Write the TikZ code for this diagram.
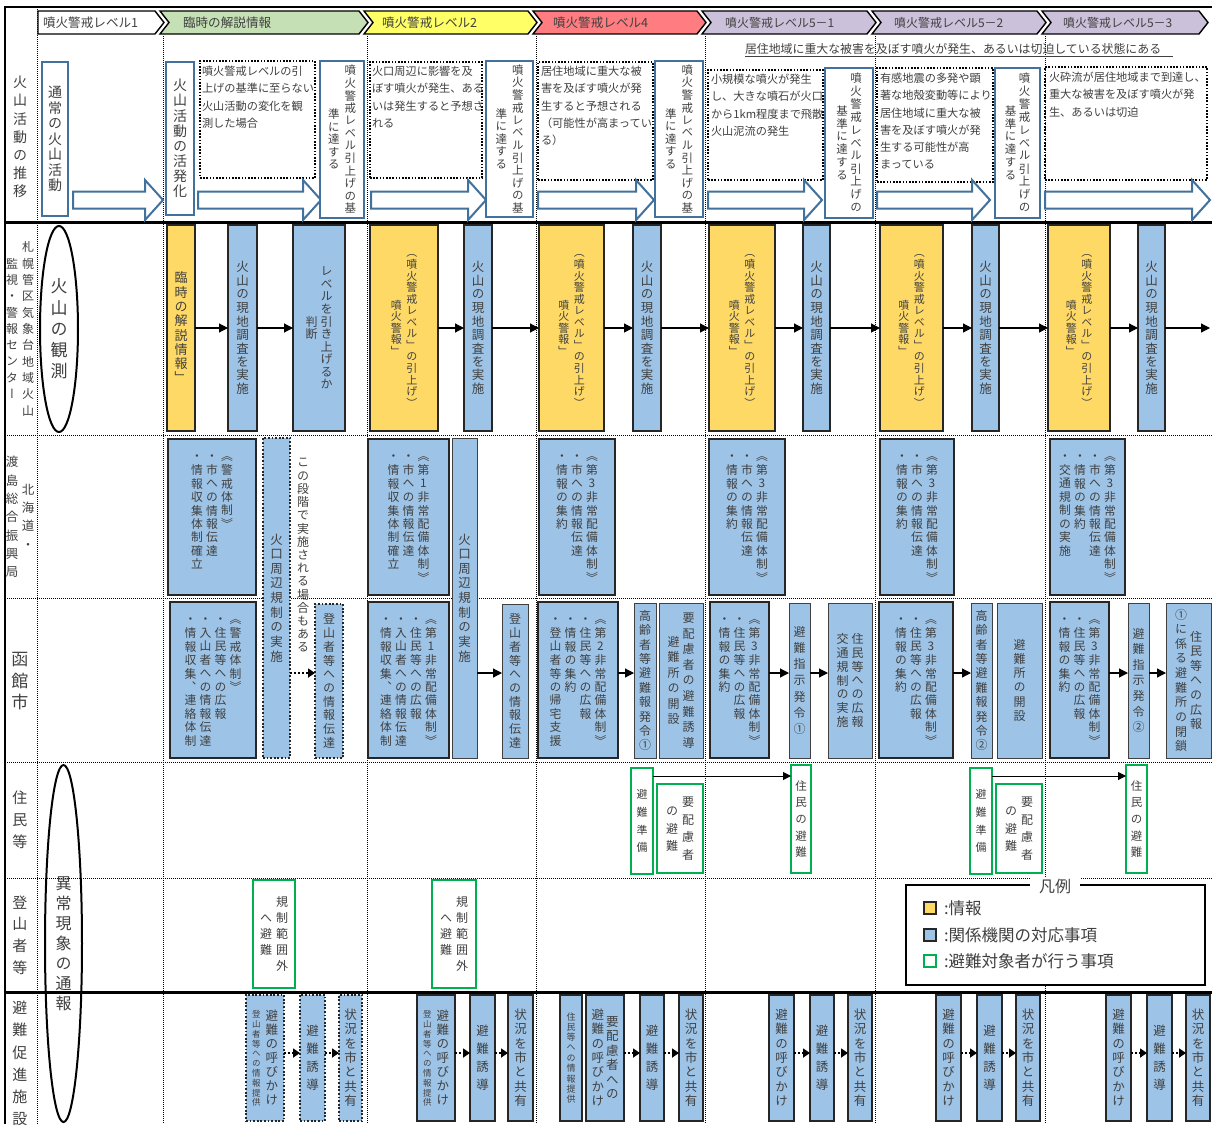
\documentclass[tikz,border=0pt]{standalone}
\usepackage{fontspec}
\setmainfont{Noto Sans CJK JP}
\newfontfamily\tatefont{Noto Sans CJK JP}[RawFeature=+vert]
\usetikzlibrary{arrows.meta,shapes.geometric}
\definecolor{txt}{HTML}{404040}
\definecolor{bfill}{HTML}{9DC3E6}
\definecolor{yfill}{HTML}{FFD966}
\definecolor{bdark}{HTML}{262626}
\definecolor{bgray}{HTML}{404040}
\definecolor{gline}{HTML}{00B050}
\definecolor{oline}{HTML}{41719C}
\definecolor{hgreen}{HTML}{C5E0B4}
\definecolor{hyellow}{HTML}{FFFF66}
\definecolor{hred}{HTML}{FF7C80}
\definecolor{hpurple}{HTML}{CCC1DA}
\newcommand\vtstep{1.12em}
\newcommand\vtgap{3pt}
\ExplSyntaxOn
\seq_new:N \l__vt_seq
\bool_new:N \l__vt_first_bool
\cs_new_protected:Npn \__vt_cells:n #1
  {
    \offinterlineskip
    \tl_map_inline:nn {#1}
      {
        \hbox_to_wd:nn {1em}
          { \hss \vbox_to_ht:nn {\vtstep} { \vss \hbox:n { \vphantom{国} ##1 } \vss } \hss }
      }
  }
\cs_new_protected:Npn \__vt_make:nn #1#2
  {
    \seq_set_split:Nnn \l__vt_seq { | } {#2}
    \seq_reverse:N \l__vt_seq
    \hbox:n
      {
        \bool_set_false:N \l__vt_first_bool
        \seq_map_inline:Nn \l__vt_seq
          {
            \bool_if:NT \l__vt_first_bool { \hskip \vtgap \scan_stop: }
            \bool_set_true:N \l__vt_first_bool
            \str_if_eq:nnTF {#1} {t}
              { \vtop { \__vt_cells:n {##1} } }
              { \c_math_toggle_token \vcenter { \__vt_cells:n {##1} } \c_math_toggle_token }
          }
      }
  }
\NewDocumentCommand \vtc { m } { \__vt_make:nn {c} {#1} }
\NewDocumentCommand \vtt { m } { \__vt_make:nn {t} {#1} }
\ExplSyntaxOff
\tikzset{
  every node/.style={inner sep=0pt, outer sep=0pt, text=txt},
  box/.style n args={4}{minimum width={#3-#1}, minimum height={#4-#2}, at={({(#1+#3)/2},{(#2+#4)/2})}},
  vf/.style n args={3}{font=\tatefont\fontsize{#1}{#1}\selectfont\def\vtstep{#2em}\def\vtgap{#3pt}},
  hf/.style={font=\fontsize{#1}{#1}\selectfont},
  htx/.style={font=\fontsize{11.2}{17.3}\selectfont, align=left},
  bbox/.style={fill=bfill, draw=bdark, line width=2pt},
  bthk/.style={fill=bfill, draw=bdark, line width=2.6pt},
  bthin/.style={fill=bfill, draw=bgray, line width=1pt},
  bdot/.style={fill=bfill, draw=bdark, line width=1.8pt, dash pattern=on 1.8pt off 1.8pt},
  ybox/.style={fill=yfill, draw=bdark, line width=2pt},
  gbox/.style={fill=white, draw=gline, line width=2pt},
  obox/.style={fill=white, draw=oline, line width=2pt},
  tbox/.style={draw=black, line width=1.6pt, dash pattern=on 1.6pt off 1.6pt},
  grid/.style={line width=0.9pt, dash pattern=on 1pt off 1pt},
  arr/.style={line width=1.2pt, -{Triangle[length=9pt,width=9pt]}},
  sarr/.style={line width=1pt, -{Triangle[length=8pt,width=8pt]}},
  darr/.style={line width=2.2pt, dash pattern=on 2pt off 2pt, -{Triangle[length=7pt,width=9pt]}},
}
\newcommand\barrow[3]{\draw[line width=2pt, draw=oline, fill=white, line join=miter] (#1,#3-8.5) -- (#2-18,#3-8.5) -- (#2-18,#3-20) -- (#2,#3) -- (#2-18,#3+20) -- (#2-18,#3+8.5) -- (#1,#3+8.5) -- cycle;}
\newcommand\chev[3]{\draw[line width=1.4pt, fill=#3] (#1,11) -- (#2-9,11) -- (#2,22.5) -- (#2-9,34) -- (#1,34) -- (#1+9,22.5) -- cycle;}
\newcommand\tb[8]{\node[#1, box={#4}{#5}{#6}{#7}] (#3) {};
  \path (#3.north) ++(0,11) node[anchor=north, #2] (#3t) {#8};}
\begin{document}
\begin{tikzpicture}[x=1pt,y=-1pt]
\useasboundingbox (0,0) rectangle (1212,1124);
\fill[white] (0,0) rectangle (1212,1124);
% ---------------- grid
\draw[grid] (37,7) -- (37,1124);
\foreach \gx in {163,367,536,705,875,1045} \draw[grid] (\gx,36) -- (\gx,1124);
\foreach \gy in {435,598,762,878} \draw[grid] (5,\gy) -- (1212,\gy);
\draw[line width=3pt] (5,222) -- (1212,222);
\draw[line width=3pt] (5,992) -- (1212,992);
\draw[line width=2.5pt] (1212,7) -- (5,7) -- (5,1124);
% ---------------- header chevrons
\draw[line width=1.4pt, fill=white] (38,11) -- (155,11) -- (164,22.5) -- (155,34) -- (38,34) -- cycle;
\chev{160}{368}{hgreen}
\chev{364}{537}{hyellow}
\chev{533}{706}{hred}
\chev{702}{876}{hpurple}
\chev{872}{1046}{hpurple}
\chev{1042}{1208}{hpurple}
\node[hf=12.6, anchor=west] (h1) at (43,23) {噴火警戒レベル1};
\node[hf=12.6, anchor=west] (h2) at (183,23) {臨時の解説情報};
\node[hf=12.6, anchor=west] (h3) at (382,23) {噴火警戒レベル2};
\node[hf=12.6, anchor=west] (h4) at (553,23) {噴火警戒レベル4};
\node[hf=12, anchor=west] (h5) at (725,23) {噴火警戒レベル5－1};
\node[hf=12, anchor=west] (h6) at (894,23) {噴火警戒レベル5－2};
\node[hf=12, anchor=west] (h7) at (1063,23) {噴火警戒レベル5－3};
% ---------------- row labels
\node[vf={14}{1.3}{3}] (lab1) at (20,137) {\vtc{火山活動の推移}};
\node[vf={12}{1.36}{4}] (lab2) at (20,329) {\vtc{札幌管区気象台地域火山|監視・警報センター}};
\node[vf={12.5}{1.47}{3.5}] (lab3) at (20,517) {\vtc{北海道・|渡島総合振興局}};
\node[vf={17}{1.25}{3}] (lab4) at (20,681) {\vtc{函館市}};
\node[vf={15}{1.45}{3}] (lab5) at (20,820) {\vtc{住民等}};
\node[vf={15}{1.45}{3}] (lab6) at (20,935) {\vtc{登山者等}};
\node[vf={15}{1.48}{3}, anchor=north] (lab7) at (20,997) {\vtt{避難促進施設}};
\node[ellipse, draw=black, line width=2pt, minimum width=38pt, minimum height=206pt, vf={17}{1.25}{3}] (obs) at (59,329) {\vtc{火山の観測}};
\node[ellipse, draw=black, line width=2pt, minimum width=37pt, minimum height=357pt, vf={16}{1.25}{3}] (rep) at (63.5,943.5) {\vtc{異常現象の通報}};
% ---------------- row 1
\node[obox, box={42}{62}{68}{216}, vf={14}{1.1}{3}] (r1a) {\vtc{通常の火山活動}};
\barrow{73}{163}{200}
\node[obox, box={166}{62}{194}{215}, vf={14}{1.08}{3}] (r1b) {\vtc{火山活動の活発化}};
\node[tbox, box={200}{61}{315}{178}] (r1c) {};
\node[htx, anchor=north west] (r1ct) at (202,66) {噴火警戒レベルの引\\上げの基準に至らない\\火山活動の変化を観\\測した場合};
\barrow{198}{321}{200}
\node[obox, box={320}{61}{364}{218}, vf={11.5}{1.09}{5}] (r1d) {\vtc{噴火警戒レベル引上げの基|準に達する}};
\node[tbox, box={370}{62}{482}{178}] (r1e) {};
\node[htx, anchor=north west] (r1et) at (372,66) {火口周辺に影響を及\\ぼす噴火が発生、ある\\いは発生すると予想さ\\れる};
\barrow{371}{486}{200}
\node[obox, box={486}{61}{533}{217}, vf={11.5}{1.09}{5}] (r1f) {\vtc{噴火警戒レベル引上げの基|準に達する}};
\node[tbox, box={538}{62}{653}{180}] (r1g) {};
\node[htx, anchor=north west] (r1gt) at (541,66) {居住地域に重大な被\\害を及ぼす噴火が発\\生すると予想される\\（可能性が高まってい\\る）};
\barrow{538}{654}{200}
\node[obox, box={655}{61}{703}{217}, vf={11.5}{1.09}{5}] (r1h) {\vtc{噴火警戒レベル引上げの基|準に達する}};
\node[hf=11.9, anchor=base west] (ban) at (745,53.5) {居住地域に重大な被害を及ぼす噴火が発生、あるいは切迫している状態にある};
\draw[line width=0.8pt, draw=txt] (ban.base west) ++(0,3) -- ++(428,0);
\node[tbox, box={708}{70}{823}{180}] (r1i) {};
\node[htx, anchor=north west] (r1it) at (711,74) {小規模な噴火が発生\\し、大きな噴石が火口\\から1km程度まで飛散\\火山泥流の発生};
\barrow{708}{822}{200}
\node[obox, box={825}{68}{873}{218}, vf={11.5}{1.12}{2.5}] (r1j) {\vtc{噴火警戒レベル引上げの|基準に達する}};
\node[tbox, box={877}{68}{993}{182}] (r1k) {};
\node[htx, anchor=north west] (r1kt) at (880,73) {有感地震の多発や顕\\著な地殻変動等により\\居住地域に重大な被\\害を及ぼす噴火が発\\生する可能性が高\\まっている};
\barrow{877}{990}{200}
\node[obox, box={995}{68}{1040}{218}, vf={11.5}{1.12}{2.5}] (r1l) {\vtc{噴火警戒レベル引上げの|基準に達する}};
\node[tbox, box={1045}{67}{1207}{180}] (r1m) {};
\node[htx, anchor=north west] (r1mt) at (1049,72) {火砕流が居住地域まで到達し、\\重大な被害を及ぼす噴火が発\\生、あるいは切迫};
\barrow{1045}{1210}{200}
% ---------------- row 2
\node[ybox, box={167}{225}{195}{431}, vf={13}{1.1}{3}] (r2y1) {\vtc{臨時の解説情報」}};
\node[bbox, box={228}{225}{257}{431}, vf={12.5}{1.08}{3}] (r2b1) {\vtc{火山の現地調査を実施}};
\node[bbox, box={293}{225}{345}{431}, vf={12}{1.05}{3}] (r2c1) {\vtc{レベルを引き上げるか|判断}};
\node[ybox, box={370}{225}{438}{431}, vf={11}{1.05}{4.5}] (r2y2) {\vtc{（噴火警戒レベル」の引上げ）|噴火警報」}};
\node[bbox, box={464}{225}{492}{431}, vf={12.5}{1.08}{3}] (r2b2) {\vtc{火山の現地調査を実施}};
\node[ybox, box={539}{225}{604}{431}, vf={11}{1.05}{4.5}] (r2y4) {\vtc{（噴火警戒レベル」の引上げ）|噴火警報」}};
\node[bbox, box={633}{225}{661}{431}, vf={12.5}{1.08}{3}] (r2b4) {\vtc{火山の現地調査を実施}};
\node[ybox, box={709}{225}{775}{431}, vf={11}{1.05}{4.5}] (r2y5) {\vtc{（噴火警戒レベル」の引上げ）|噴火警報」}};
\node[bbox, box={803}{225}{830}{431}, vf={12.5}{1.08}{3}] (r2b5) {\vtc{火山の現地調査を実施}};
\node[ybox, box={880}{225}{943}{431}, vf={11}{1.05}{4.5}] (r2y6) {\vtc{（噴火警戒レベル」の引上げ）|噴火警報」}};
\node[bbox, box={972}{225}{999}{431}, vf={12.5}{1.08}{3}] (r2b6) {\vtc{火山の現地調査を実施}};
\node[ybox, box={1048}{225}{1110}{431}, vf={11}{1.05}{4.5}] (r2y7) {\vtc{（噴火警戒レベル」の引上げ）|噴火警報」}};
\node[bbox, box={1138}{225}{1165}{431}, vf={12.5}{1.08}{3}] (r2b7) {\vtc{火山の現地調査を実施}};
\coordinate (r2end) at (1210,328);
\draw[arr] (r2y1) -- (r2b1);
\draw[arr] (r2b1) -- (r2c1);
\draw[arr] (r2y2) -- (r2b2);
\draw[arr] (r2b2) -- (r2y4);
\draw[arr] (r2y4) -- (r2b4);
\draw[arr] (r2b4) -- (r2y5);
\draw[arr] (r2y5) -- (r2b5);
\draw[arr] (r2b5) -- (r2y6);
\draw[arr] (r2y6) -- (r2b6);
\draw[arr] (r2b6) -- (r2y7);
\draw[arr] (r2y7) -- (r2b7);
\draw[arr] (r2b7) -- (r2end);
% ---------------- rows 3/4 tall boxes
\node[bdot, box={263}{438}{290}{758}, vf={12.5}{1.17}{3}] (r34a) {\vtc{火口周辺規制の実施}};
\node[vf={12}{1.1}{3}, anchor=north] (note) at (303,456) {\vtt{この段階で実施される場合もある}};
\node[bthin, box={452}{438}{477}{758}, vf={12.5}{1.17}{3}] (r34b) {\vtc{火口周辺規制の実施}};
% ---------------- row 3
\tb{bthk}{vf={11.8}{1.14}{3.2}}{r3a}{168}{439}{256}{595}{\vtt{《警戒体制》|・市への情報伝達|・情報収集体制確立}}
\tb{bthk}{vf={11.8}{1.14}{3.2}}{r3b}{368}{439}{449}{595}{\vtt{《第1非常配備体制》|・市への情報伝達|・情報収集体制確立}}
\tb{bthk}{vf={11.8}{1.14}{3.2}}{r3c}{539}{439}{615}{595}{\vtt{《第3非常配備体制》|・市への情報伝達|・情報の集約}}
\tb{bthk}{vf={11.8}{1.14}{3.2}}{r3d}{709}{439}{785}{595}{\vtt{《第3非常配備体制》|・市への情報伝達|・情報の集約}}
\tb{bthk}{vf={11.8}{1.14}{3.2}}{r3e}{880}{439}{954}{595}{\vtt{《第3非常配備体制》|・市への情報伝達|・情報の集約}}
\tb{bthk}{vf={11.8}{1.14}{3.2}}{r3f}{1050}{439}{1125}{595}{\vtt{《第3非常配備体制》|・市への情報伝達|・情報の集約|・交通規制の実施}}
% ---------------- row 4
\tb{bthk}{vf={11.8}{1.14}{3.2}}{r4a}{170}{602}{256}{758}{\vtt{《警戒体制》|・住民等への広報|・入山者への情報伝達|・情報収集、連絡体制}}
\node[bdot, box={315}{604}{343}{758}, vf={12}{1.14}{3}] (r4b) {\vtc{登山者等への情報伝達}};
\tb{bthk}{vf={11.8}{1.14}{3.2}}{r4c}{368}{602}{449}{758}{\vtt{《第1非常配備体制》|・住民等への広報|・入山者への情報伝達|・情報収集、連絡体制}}
\node[bthin, box={502}{604}{528}{758}, vf={12}{1.14}{3}] (r4d) {\vtc{登山者等への情報伝達}};
\tb{bthk}{vf={11.8}{1.14}{3.2}}{r4e}{538}{602}{618}{758}{\vtt{《第2非常配備体制》|・住民等への広報|・情報の集約|・登山者等の帰宅支援}}
\node[bthin, box={634}{603}{656}{758}, vf={12}{1.2}{3}] (r4f) {\vtc{高齢者等避難報発令①}};
\node[bthin, box={659}{603}{703}{758}, vf={12}{1.3}{3}] (r4g) {\vtc{要配慮者の避難誘導|避難所の開設}};
\tb{bthk}{vf={11.8}{1.14}{3.2}}{r4h}{710}{602}{769}{758}{\vtt{《第3非常配備体制》|・住民等への広報|・情報の集約}}
\node[bthin, box={789}{603}{810}{758}, vf={12}{1.35}{3}] (r4i) {\vtc{避難指示発令①}};
\node[bthin, box={828}{603}{872}{758}, vf={12}{1.15}{3}] (r4j) {\vtc{住民等への広報|交通規制の実施}};
\tb{bthk}{vf={11.8}{1.14}{3.2}}{r4k}{879}{602}{953}{758}{\vtt{《第3非常配備体制》|・住民等への広報|・情報の集約}}
\node[bthin, box={971}{603}{992}{758}, vf={12}{1.2}{3}] (r4l) {\vtc{高齢者等避難報発令②}};
\node[bthin, box={997}{603}{1042}{758}, vf={12}{1.2}{3}] (r4m) {\vtc{避難所の開設}};
\tb{bthk}{vf={11.8}{1.14}{3.2}}{r4n}{1050}{602}{1109}{758}{\vtt{《第3非常配備体制》|・住民等への広報|・情報の集約}}
\node[bthin, box={1128}{603}{1149}{758}, vf={12}{1.3}{3}] (r4o) {\vtc{避難指示発令②}};
\node[bthin, box={1166}{603}{1211}{758}, vf={12}{1.22}{3}] (r4p) {\vtc{住民等への広報|①に係る避難所の閉鎖}};
\coordinate (ya) at (0,673);
\draw[darr] (r34a.east |- ya) -- (r4b.west |- ya);
\draw[arr] (r34b.east |- ya) -- (r4d.west |- ya);
\draw[arr] (r4e.east |- ya) -- (r4f.west |- ya);
\draw[arr] (r4h.east |- ya) -- (r4i.west |- ya);
\draw[arr] (r4i.east |- ya) -- (r4j.west |- ya);
\draw[arr] (r4k.east |- ya) -- (r4l.west |- ya);
\draw[arr] (r4n.east |- ya) -- (r4o.west |- ya);
\draw[arr] (r4o.east |- ya) -- (r4p.west |- ya);
% ---------------- row 5
\node[gbox, box={631}{768}{653}{874}, vf={11}{1.6}{3}] (r5a) {\vtc{避難準備}};
\node[gbox, box={657}{784}{703}{873}, vf={12}{1.45}{4}] (r5b) {\vtc{要配慮者|の避難}};
\node[gbox, box={791}{765}{811}{873}, vf={11.5}{1.45}{3}] (r5c) {\vtc{住民の避難}};
\node[gbox, box={970}{768}{992}{874}, vf={11}{1.6}{3}] (r5d) {\vtc{避難準備}};
\node[gbox, box={996}{784}{1042}{873}, vf={12}{1.45}{4}] (r5e) {\vtc{要配慮者|の避難}};
\node[gbox, box={1126}{765}{1147}{873}, vf={11.5}{1.45}{3}] (r5f) {\vtc{住民の避難}};
\coordinate (yb) at (0,776);
\draw[sarr] (r5a.east |- yb) -- (r5c.west |- yb);
\draw[sarr] (r5d.east |- yb) -- (r5f.west |- yb);
% ---------------- row 6
\node[gbox, box={253}{880}{295}{988}, vf={12}{1.35}{4}] (r6a) {\vtc{規制範囲外|へ避難}};
\node[gbox, box={432}{880}{476}{988}, vf={12}{1.35}{4}] (r6b) {\vtc{規制範囲外|へ避難}};
% legend
\node[draw=black, line width=2pt, fill=white, box={906}{885}{1205}{985}] (leg) {};
\node[fill=white, inner xsep=9pt, inner ysep=2pt, hf=16] (legt) at (1055,886) {凡例};
\node[fill=yfill, draw=bdark, line width=1.6pt, minimum size=12pt] (lg1) at (930,908) {};
\node[fill=bfill, draw=bdark, line width=1.6pt, minimum size=12pt] (lg2) at (930,935) {};
\node[fill=white, draw=gline, line width=1.8pt, minimum size=12pt] (lg3) at (930,961) {};
\node[hf=16.5, anchor=west] (lg1t) at (944,908) {:情報};
\node[hf=16.5, anchor=west] (lg2t) at (944,935) {:関係機関の対応事項};
\node[hf=16.5, anchor=west] (lg3t) at (944,961) {:避難対象者が行う事項};
% ---------------- row 7
\node[bdot, box={246}{995}{284}{1121}, font=\tatefont] (r7a) {\hbox{\fontsize{8.5}{8.5}\selectfont\def\vtstep{1.15em}\vtc{登山者等への情報提供}\hskip5pt\fontsize{12.5}{12.5}\selectfont\def\vtstep{1.12em}\vtc{避難の呼びかけ}}};
\node[bdot, box={300}{995}{325}{1121}, vf={12.5}{1.45}{3}] (r7b) {\vtc{避難誘導}};
\node[bdot, box={339}{995}{362}{1121}, vf={12.5}{1.15}{3}] (r7c) {\vtc{状況を市と共有}};
\node[bbox, box={417}{995}{455}{1121}, font=\tatefont] (r7d) {\hbox{\fontsize{8.5}{8.5}\selectfont\def\vtstep{1.15em}\vtc{登山者等への情報提供}\hskip5pt\fontsize{12.5}{12.5}\selectfont\def\vtstep{1.12em}\vtc{避難の呼びかけ}}};
\node[bbox, box={470}{995}{495}{1121}, vf={12.5}{1.45}{3}] (r7e) {\vtc{避難誘導}};
\node[bbox, box={508}{995}{533}{1121}, vf={12.5}{1.15}{3}] (r7f) {\vtc{状況を市と共有}};
\node[bbox, box={560}{995}{582}{1121}, vf={9}{1.15}{3}] (r7g) {\vtc{住民等への情報提供}};
\node[bbox, box={586}{995}{624}{1121}, vf={12.5}{1.15}{2}] (r7h) {\vtc{要配慮者への|避難の呼びかけ}};
\node[bbox, box={640}{995}{664}{1121}, vf={12.5}{1.45}{3}] (r7i) {\vtc{避難誘導}};
\node[bbox, box={679}{995}{703}{1121}, vf={12.5}{1.15}{3}] (r7j) {\vtc{状況を市と共有}};
\node[bbox, box={769}{995}{794}{1121}, vf={12.5}{1.15}{3}] (r7k) {\vtc{避難の呼びかけ}};
\node[bbox, box={810}{995}{834}{1121}, vf={12.5}{1.45}{3}] (r7l) {\vtc{避難誘導}};
\node[bbox, box={848}{995}{872}{1121}, vf={12.5}{1.15}{3}] (r7m) {\vtc{状況を市と共有}};
\node[bbox, box={936}{995}{961}{1121}, vf={12.5}{1.15}{3}] (r7n) {\vtc{避難の呼びかけ}};
\node[bbox, box={977}{995}{1002}{1121}, vf={12.5}{1.45}{3}] (r7o) {\vtc{避難誘導}};
\node[bbox, box={1016}{995}{1040}{1121}, vf={12.5}{1.15}{3}] (r7p) {\vtc{状況を市と共有}};
\node[bbox, box={1106}{995}{1131}{1121}, vf={12.5}{1.15}{3}] (r7q) {\vtc{避難の呼びかけ}};
\node[bbox, box={1147}{995}{1172}{1121}, vf={12.5}{1.45}{3}] (r7r) {\vtc{避難誘導}};
\node[bbox, box={1186}{995}{1210}{1121}, vf={12.5}{1.15}{3}] (r7s) {\vtc{状況を市と共有}};
\coordinate (yc) at (0,1053);
\draw[darr] (r7a.east |- yc) -- (r7b.west |- yc);
\draw[darr] (r7b.east |- yc) -- (r7c.west |- yc);
\draw[darr] (r7d.east |- yc) -- (r7e.west |- yc);
\draw[darr] (r7e.east |- yc) -- (r7f.west |- yc);
\draw[darr] (r7h.east |- yc) -- (r7i.west |- yc);
\draw[darr] (r7i.east |- yc) -- (r7j.west |- yc);
\draw[darr] (r7k.east |- yc) -- (r7l.west |- yc);
\draw[darr] (r7l.east |- yc) -- (r7m.west |- yc);
\draw[darr] (r7n.east |- yc) -- (r7o.west |- yc);
\draw[darr] (r7o.east |- yc) -- (r7p.west |- yc);
\draw[darr] (r7q.east |- yc) -- (r7r.west |- yc);
\draw[darr] (r7r.east |- yc) -- (r7s.west |- yc);
\end{tikzpicture}
\end{document}
